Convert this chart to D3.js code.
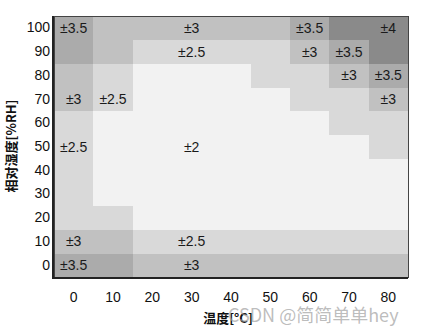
<!DOCTYPE html>
<html>
<head>
<meta charset="utf-8">
<script src="https://cdn.jsdelivr.net/npm/d3@7"></script>
<style>
  html, body { margin: 0; padding: 0; background: #fff; }
  svg { display: block; }
</style>
</head>
<body>
<svg id="chart" width="424" height="330"></svg>
<script>
// Temperature categories (°C) and relative humidity categories (%RH)
const temps = [0, 10, 20, 30, 40, 50, 60, 70, 80];
const rhs = [0, 10, 20, 30, 40, 50, 60, 70, 80, 90, 100];

// Accuracy (±%RH), one row per RH value (0 → 100), one value per temperature
const acc0   = [3.5, 3.5, 3, 3, 3, 3, 3, 3, 3];
const acc10  = [3, 3, 2.5, 2.5, 2.5, 2.5, 2.5, 2.5, 2.5];
const acc20  = [2.5, 2.5, 2, 2, 2, 2, 2, 2, 2];
const acc30  = [2.5, 2, 2, 2, 2, 2, 2, 2, 2];
const acc40  = [2.5, 2, 2, 2, 2, 2, 2, 2, 2];
const acc50  = [2.5, 2, 2, 2, 2, 2, 2, 2, 2.5];
const acc60  = [2.5, 2, 2, 2, 2, 2, 2, 2.5, 2.5];
const acc70  = [3, 2.5, 2, 2, 2, 2, 2.5, 2.5, 3];
const acc80  = [3, 2.5, 2, 2, 2, 2.5, 2.5, 3, 3.5];
const acc90  = [3.5, 3, 2.5, 2.5, 2.5, 2.5, 3, 3.5, 4];
const acc100 = [3.5, 3, 3, 3, 3, 3, 3.5, 4, 4];
const accRows = [acc0, acc10, acc20, acc30, acc40, acc50, acc60, acc70, acc80, acc90, acc100];

// Cells that carry a text label: [temperature, RH]
const labelCells = [
  [0, 100], [30, 100], [60, 100], [80, 100],
  [30, 90], [60, 90], [70, 90],
  [70, 80], [80, 80],
  [0, 70], [10, 70], [80, 70],
  [0, 50], [30, 50],
  [0, 10], [30, 10],
  [0, 0], [30, 0]
];

const xTitle = "温度[°C]";
const yTitle = "相对湿度[%RH]";
const watermark = "CSDN @简简单单hey";

// ---- build
const cells = [];
rhs.forEach((rh, i) => temps.forEach((t, j) => cells.push({ t, rh, v: accRows[i][j] })));
const valueAt = (t, rh) => accRows[rhs.indexOf(rh)][temps.indexOf(t)];

const svg = d3.select("#chart");
const pL = 54, pR = 408, pT = 16, pB = 277;

const x = d3.scaleBand().domain(temps).range([pL, pR]).padding(0);
const y = d3.scaleBand().domain(rhs).range([pB, pT]).padding(0);
const color = d3.scaleLinear()
  .domain([2, 2.5, 3, 3.5, 4])
  .range(["#f2f2f2", "#d9d9d9", "#c1c1c1", "#ababab", "#8a8a8a"]);

svg.append("g").selectAll("rect").data(cells).join("rect")
  .attr("x", d => x(d.t))
  .attr("y", d => y(d.rh))
  .attr("width", x.bandwidth() + 0.5)
  .attr("height", y.bandwidth() + 0.5)
  .attr("fill", d => color(d.v))
  .attr("shape-rendering", "crispEdges");

svg.append("g").selectAll("text").data(labelCells).join("text")
  .attr("x", d => x(d[0]) + x.bandwidth() / 2)
  .attr("y", d => y(d[1]) + y.bandwidth() / 2)
  .attr("dy", "0.36em")
  .attr("text-anchor", "middle")
  .attr("font-family", "'Liberation Sans', Arial, sans-serif")
  .attr("font-size", 14)
  .attr("fill", "#1a1a1a")
  .text(d => "±" + valueAt(d[0], d[1]));

// frame
svg.append("rect")
  .attr("x", pL).attr("y", pT)
  .attr("width", pR - pL).attr("height", pB - pT)
  .attr("fill", "none").attr("stroke", "#444").attr("stroke-width", 1)
  .attr("shape-rendering", "crispEdges");
svg.append("path")
  .attr("d", `M${pL - 1},${pT} V${pB + 1} H${pR}`)
  .attr("fill", "none").attr("stroke", "#222").attr("stroke-width", 2);

// axes
const xAxis = svg.append("g")
  .attr("transform", `translate(0,${pB + 15})`)
  .call(d3.axisBottom(x).tickSize(0).tickPadding(0));
const yAxis = svg.append("g")
  .attr("transform", `translate(${pL - 4},0)`)
  .call(d3.axisLeft(y).tickSize(0).tickPadding(0));
[xAxis, yAxis].forEach(g => {
  g.select(".domain").remove();
  g.selectAll("text")
    .attr("font-family", "'Liberation Sans', Arial, sans-serif")
    .attr("font-size", 14)
    .attr("fill", "#111");
});

// titles
svg.append("text")
  .attr("x", 228).attr("y", 323)
  .attr("text-anchor", "middle")
  .attr("font-family", "'Noto Sans CJK SC', sans-serif")
  .attr("font-size", 13)
  .attr("font-weight", 600)
  .attr("fill", "#111")
  .text(xTitle);
svg.append("text")
  .attr("transform", "translate(16,146) rotate(-90)")
  .attr("text-anchor", "middle")
  .attr("font-family", "'Noto Sans CJK SC', sans-serif")
  .attr("font-size", 13)
  .attr("font-weight", 600)
  .attr("fill", "#111")
  .text(yTitle);

// watermark
svg.append("text")
  .attr("x", 228).attr("y", 322)
  .attr("font-family", "'Noto Sans CJK SC', sans-serif")
  .attr("font-size", 18)
  .attr("fill", "#a0a0a0")
  .attr("fill-opacity", 0.7)
  .text(watermark);
</script>
</body>
</html>
